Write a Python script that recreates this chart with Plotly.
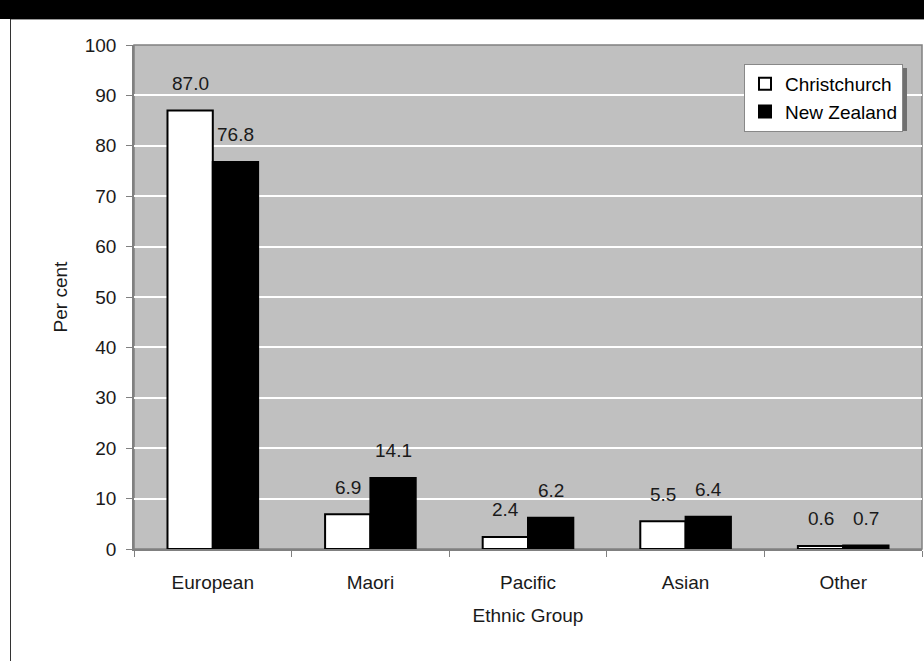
import plotly.graph_objects as go

# Ethnic composition, percent of population
categories = ["European", "Maori", "Pacific", "Asian", "Other"]
christchurch = [87.0, 6.9, 2.4, 5.5, 0.6]
new_zealand = [76.8, 14.1, 6.2, 6.4, 0.7]
y_ticks = list(range(0, 101, 10))

W, H = 924, 661
L, R, T, B = 134, 2, 45, 112
pw, ph = W - L - R, H - T - B

def px_x(x):
    return (x - L) / pw

def px_y(y):
    return (H - B - y) / ph

FONT = "Liberation Sans, Arial, sans-serif"
FS = 19
TXT = "#1a1a1a"

fig = go.Figure()
fig.add_trace(go.Bar(
    name="Christchurch", x=categories, y=christchurch,
    marker=dict(color="white", line=dict(color="black", width=2)),
))
fig.add_trace(go.Bar(
    name="New Zealand", x=categories, y=new_zealand,
    marker=dict(color="black", line=dict(color="black", width=2)),
))

# value labels above each bar
for series, offset in ((christchurch, -0.1438), (new_zealand, 0.1438)):
    for i, v in enumerate(series):
        fig.add_annotation(
            x=i + offset, y=v, xref="x", yref="y", text=f"{v:.1f}",
            showarrow=False, yanchor="middle", yshift=27,
            font=dict(family=FONT, size=FS, color=TXT),
        )

shapes = [
    # dark header band
    dict(type="rect", xref="paper", yref="paper",
         x0=px_x(-5), x1=px_x(W + 5), y0=px_y(19), y1=px_y(-5),
         fillcolor="black", line=dict(width=0), layer="above"),
    dict(type="line", xref="paper", yref="paper",
         x0=px_x(10), x1=px_x(W), y0=px_y(19.5), y1=px_y(19.5),
         line=dict(color="#999", width=1)),
    # frame line on the left
    dict(type="line", xref="paper", yref="paper",
         x0=px_x(10.5), x1=px_x(10.5), y0=px_y(19), y1=px_y(H + 5),
         line=dict(color="#333", width=1)),
    # plot area border
    dict(type="rect", xref="paper", yref="paper", x0=0, x1=1, y0=0, y1=1,
         line=dict(color="#808080", width=1.5), layer="below"),
    # legend shadow
    dict(type="rect", xref="paper", yref="paper",
         x0=px_x(748), x1=px_x(907), y0=px_y(131), y1=px_y(68),
         fillcolor="#707070", line=dict(width=0), layer="above"),
]

fig.update_layout(
    width=W, height=H,
    margin=dict(l=L, r=R, t=T, b=B),
    paper_bgcolor="white", plot_bgcolor="#c0c0c0",
    barmode="group", bargap=0.425, bargroupgap=0,
    font=dict(family=FONT, size=FS, color=TXT),
    showlegend=True,
    legend=dict(
        x=px_x(744), y=px_y(64), xanchor="left", yanchor="top",
        bgcolor="white", bordercolor="#888", borderwidth=1,
        font=dict(family=FONT, size=FS, color="black"),
        itemsizing="constant", itemwidth=30, tracegroupgap=0,
    ),
    shapes=shapes,
    xaxis=dict(
        showgrid=False, showline=True, linecolor="#808080", linewidth=1.5,
        ticks="outside", ticklen=6, tickcolor="#808080", tickson="boundaries",
        ticklabelstandoff=15,
        tickfont=dict(family=FONT, size=FS, color=TXT),
        title=dict(text="Ethnic Group", font=dict(family=FONT, size=FS, color=TXT), standoff=17),
    ),
    yaxis=dict(
        range=[0, 100], tickvals=y_ticks, ticktext=[str(t) for t in y_ticks],
        showgrid=True, gridcolor="white", gridwidth=2,
        showline=True, linecolor="#808080", linewidth=1.5,
        ticks="outside", ticklen=6, tickcolor="#808080",
        ticklabelstandoff=6,
        zeroline=False,
        tickfont=dict(family=FONT, size=FS, color=TXT),
        title=dict(text="Per cent", font=dict(family=FONT, size=FS, color=TXT), standoff=12),
    ),
)

fig.write_html("out.html")
